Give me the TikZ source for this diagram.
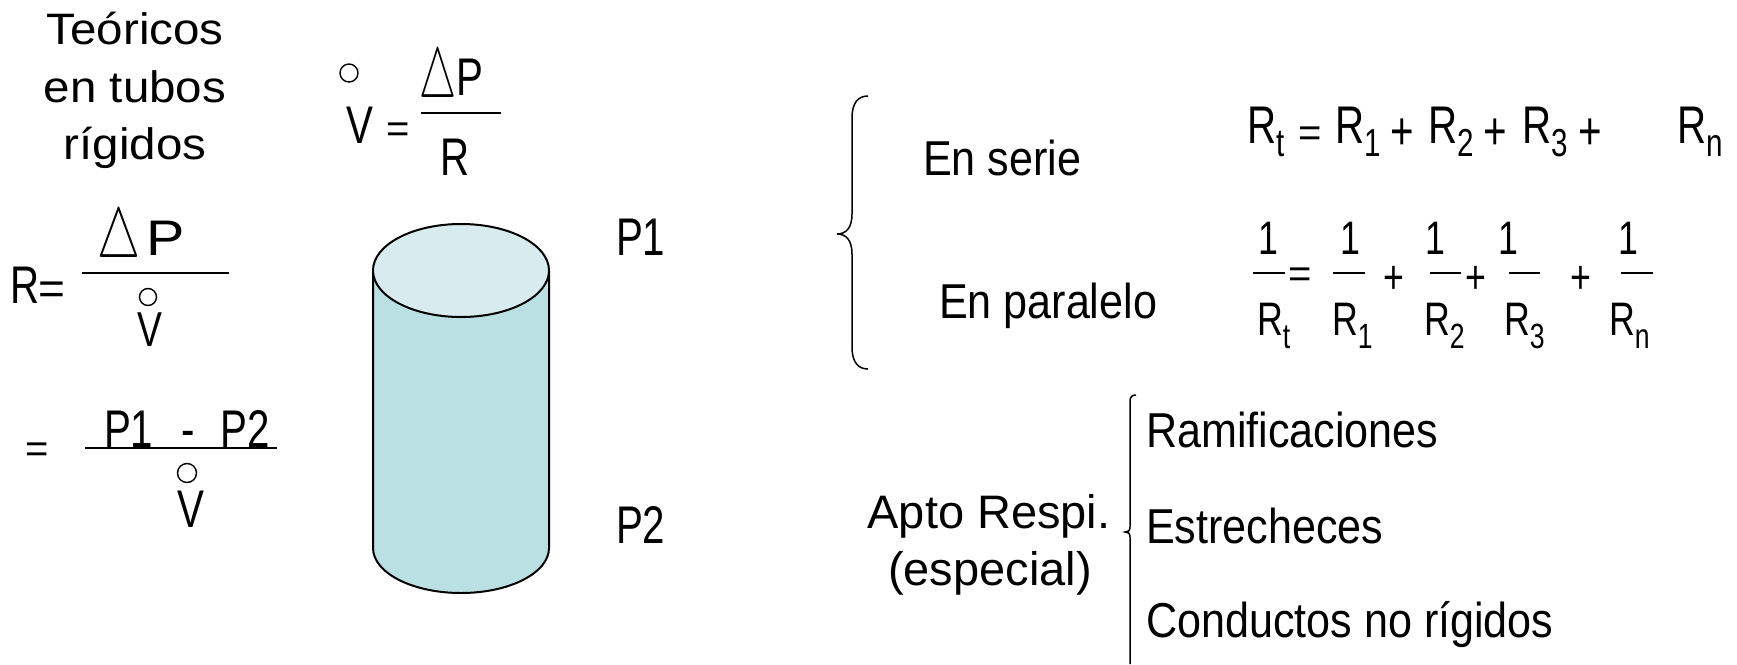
\documentclass[tikz,border=0pt]{standalone}
\usepackage{fontspec}
\setmainfont{Liberation Sans}
\newfontfamily\titlef{Liberation Sans}[FakeStretch=1.08]
\newfontfamily\regf{Liberation Sans}
\newfontfamily\condf{Liberation Sans}[FakeStretch=0.88]
\newfontfamily\formf{Liberation Sans}[FakeStretch=0.76]
\newfontfamily\widef{Liberation Sans}[FakeStretch=1.15]

\definecolor{tubebody}{RGB}{187,224,228}
\definecolor{tubetop}{RGB}{216,236,239}

% font size in px-like points
\newcommand{\fs}[1]{\fontsize{#1}{#1}\selectfont}
% R with a lowered subscript: #1 subscript size, #2 subscript
\newcommand{\Rsub}[2]{R\raisebox{-13pt}{\fs{#1}#2}}
% open triangle used as Delta
\newcommand{\Dlt}[2]{\resizebox{#1}{#2}{$\triangle$}}

\tikzset{
  lbl/.style={inner sep=0pt, outer sep=0pt, anchor=base west},
  ttl/.style={inner sep=0pt, outer sep=0pt, anchor=base, font={\titlef\fs{44}}},
  fm/.style={lbl, font={\formf\fs{53}}},
  fmc/.style={inner sep=0pt, outer sep=0pt, anchor=base, font={\formf\fs{53}}},
  fmp/.style={lbl, font={\formf\fs{47}}},
  fmpc/.style={inner sep=0pt, outer sep=0pt, anchor=base, font={\formf\fs{47}}},
  eqs/.style={inner sep=0pt, outer sep=0pt, anchor=base, font={\regf\fs{40}}},
  cond/.style={lbl, font={\condf\fs{49}}},
  apto/.style={inner sep=0pt, outer sep=0pt, anchor=base, font={\regf\fs{47}}},
  fracbar/.style={line width=1.6pt},
  dotc/.style={circle, draw, line width=1.4pt, minimum size=18pt, inner sep=0pt},
  brk/.style={line width=1.5pt},
  tube/.style={line width=2pt}
}

\begin{document}
\begin{tikzpicture}[x=1pt, y=-1pt]
\useasboundingbox (0,0) rectangle (1737,664);

% heading
\node[ttl] (t1) at (135,44)  {Teóricos};
\node[ttl] (t2) at (135,102) {en tubos};
\node[ttl] (t3) at (135,159) {rígidos};

% flow: V = Delta P / R
\node[dotc] (vd1) at (349,73) {};
\node[fm] (v1) at (346,143) {V};
\node[eqs] (eq1) at (398,142.5) {=};
\node[lbl] (d1) at (419,97) {\Dlt{37pt}{49pt}};
\node[fm] (p1) at (456,95) {P};
\coordinate (fb1a) at (421,113);
\coordinate (fb1b) at (501,113);
\draw[fracbar] (fb1a) -- (fb1b);
\node[fm] (r1) at (440,175) {R};

% resistance: R = Delta P / V
\node[fm] (r2) at (10,303) {R};
\node[inner sep=0pt, anchor=base, font={\regf\fs{46}}] (eq2) at (51.5,304) {=};
\node[lbl] (d2) at (97,257) {\Dlt{43pt}{49pt}};
\node[lbl, font={\widef\fs{50}}] (p2) at (146,255) {P};
\coordinate (fb2a) at (82,273);
\coordinate (fb2b) at (229,273);
\draw[fracbar] (fb2a) -- (fb2b);
\node[dotc, minimum size=17pt] (vd2) at (148,297) {};
\node[font={\formf\fs{49}}, lbl] (v2) at (137,346) {V};

% = (P1 - P2) / V
\node[eqs] (eq3) at (37,462.5) {=};
\node[fm] (pp) at (104,447) {P1\hspace{28pt}-\hspace{26pt}P2};
\coordinate (fb3a) at (85,448);
\coordinate (fb3b) at (277,448);
\draw[line width=1.8pt] (fb3a) -- (fb3b);
\node[dotc, minimum size=19pt] (vd3) at (187,473) {};
\node[fm] (v3) at (177,527) {V};

% tube
\fill[tubebody] (373,270.5) -- (373,548)
  arc[start angle=180, end angle=0, x radius=88, y radius=45] -- (549,270.5) -- cycle;
\draw[tube] (373,270.5) -- (373,548)
  arc[start angle=180, end angle=0, x radius=88, y radius=45] -- (549,270.5);
\filldraw[tube, fill=tubetop] (461,270.5) ellipse[x radius=88, y radius=46.5];

\node[fm] (pa) at (616,255) {P1};
\node[fm] (pb) at (616,543) {P2};

% curly brace
\draw[brk] (868,96) .. controls (858,96) and (852,103) .. (852,118)
  -- (852,214) .. controls (852,228) and (846,234) .. (837,234)
  .. controls (846,234) and (852,240) .. (852,254)
  -- (852,347) .. controls (852,362) and (858,369) .. (868,369);

\node[cond] (ser) at (923,175) {En serie};
\node[cond] (par) at (939,318) {En paralelo};

% series
\node[fm] (s1) at (1247,143) {\Rsub{39}{t}};
\node[eqs] (s2) at (1310,146) {=};
\node[fm] (s3) at (1335,143) {\Rsub{39}{1}};
\node[fmc] (s4) at (1402.5,149) {+};
\node[fm] (s5) at (1428,143) {\Rsub{39}{2}};
\node[fmc] (s6) at (1495.5,149) {+};
\node[fm] (s7) at (1522,143) {\Rsub{39}{3}};
\node[fmc] (s8) at (1590.5,149) {+};
\node[fm] (s9) at (1677,143) {\Rsub{39}{n}};

% parallel
\node[fmpc] (n1) at (1268,254) {1};
\node[fmpc] (n2) at (1350,254) {1};
\node[fmpc] (n3) at (1435,254) {1};
\node[fmpc] (n4) at (1508,254) {1};
\node[fmpc] (n5) at (1628,254) {1};
\coordinate (b1a) at (1253,273); \coordinate (b1b) at (1285,273);
\coordinate (b2a) at (1333,273); \coordinate (b2b) at (1365,273);
\coordinate (b3a) at (1430,273); \coordinate (b3b) at (1461,273);
\coordinate (b4a) at (1509,273); \coordinate (b4b) at (1540,273);
\coordinate (b5a) at (1621,273); \coordinate (b5b) at (1653,273);
\draw[fracbar] (b1a) -- (b1b);
\draw[fracbar] (b2a) -- (b2b);
\draw[fracbar] (b3a) -- (b3b);
\draw[fracbar] (b4a) -- (b4b);
\draw[fracbar] (b5a) -- (b5b);
\node[eqs] (pe) at (1300,287.5) {=};
\node[fmpc] (pl1) at (1394,293) {+};
\node[fmpc] (pl2) at (1476,293) {+};
\node[fmpc] (pl3) at (1580.5,293) {+};
\node[fmp] (m1) at (1257,335) {\Rsub{35}{t}};
\node[fmp] (m2) at (1332,335) {\Rsub{35}{1}};
\node[fmp] (m3) at (1424,335) {\Rsub{35}{2}};
\node[fmp] (m4) at (1504,335) {\Rsub{35}{3}};
\node[fmp] (m5) at (1609,335) {\Rsub{35}{n}};

% respiratory tract
\node[apto] (ap1) at (989,528) {Apto Respi.};
\node[apto] (ap2) at (990,585) {(especial)};
\draw[brk] (1136,395) .. controls (1132,395) and (1130,397) .. (1130,401)
  -- (1130,527) .. controls (1130,531) and (1128,532) .. (1125,532)
  .. controls (1128,532) and (1130,533) .. (1130,537) -- (1130,664);
\node[cond] (l1) at (1146,447) {Ramificaciones};
\node[cond] (l2) at (1146,543) {Estrecheces};
\node[cond] (l3) at (1146,637) {Conductos no rígidos};
\end{tikzpicture}
\end{document}
